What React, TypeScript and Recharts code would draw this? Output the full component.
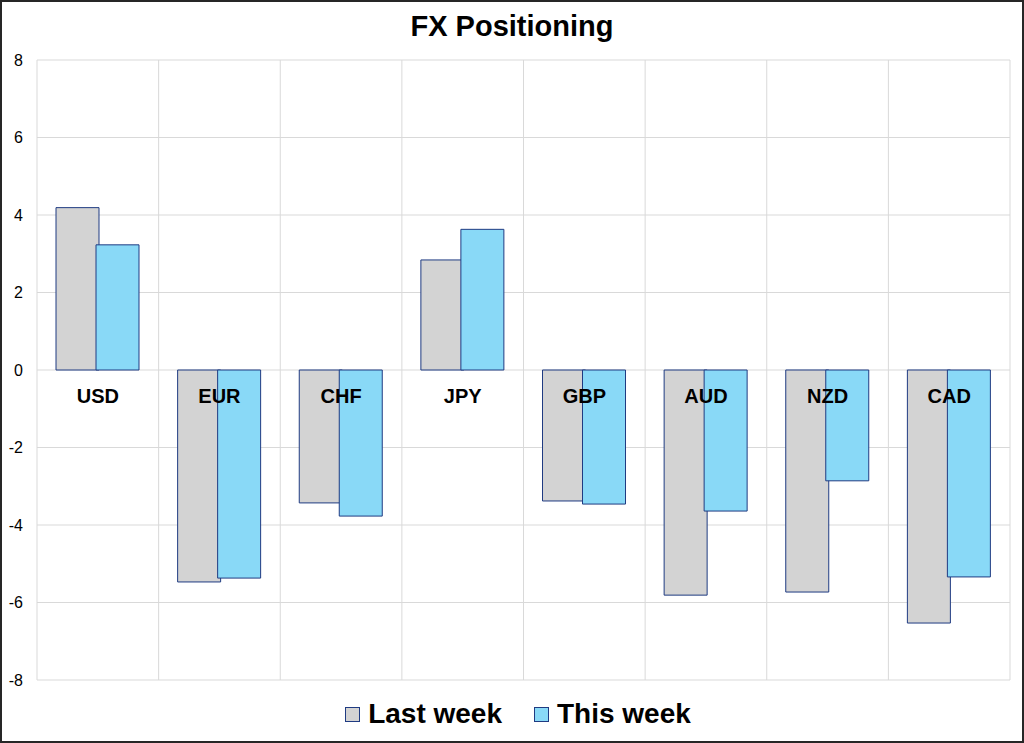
import { BarChart, Bar, XAxis, YAxis, CartesianGrid } from 'recharts';

const currencies = ['USD', 'EUR', 'CHF', 'JPY', 'GBP', 'AUD', 'NZD', 'CAD'];
const lastWeek = [4.19, -5.47, -3.43, 2.84, -3.38, -5.81, -5.73, -6.53];
const thisWeek = [3.23, -5.37, -3.77, 3.63, -3.46, -3.64, -2.86, -5.34];
const yTicks = [-8, -6, -4, -2, 0, 2, 4, 6, 8];

const data = currencies.map((c, i) => ({ name: c, last: lastWeek[i], this: thisWeek[i] }));

const W = 1024;
const H = 743;
const X_AXIS_H = 30;
const MARGIN = { top: 60, right: 14, bottom: 63 - X_AXIS_H, left: 0 };
const PLOT_H = H - MARGIN.top - MARGIN.bottom - X_AXIS_H;
const ZERO_Y = MARGIN.top + PLOT_H / 2; // domain is symmetric [-8, 8]

const FONT = '"Liberation Sans", Arial, sans-serif';
const GRID = '#D9D9D9';
const EDGE = '#1F3B82';
const GREY = '#D3D3D3';
const BLUE = '#89D9F7';

// category names sit just under the zero line, not at the bottom of the plot
const CategoryTick = ({ x, payload }: any) => (
  <text x={x} y={ZERO_Y + 33} textAnchor="middle" fontFamily={FONT}
    fontSize={20} fontWeight="bold" fill="#000">
    {payload.value}
  </text>
);

const LegendItem = ({ color, label }: { color: string; label: string }) => (
  <div style={{ display: 'flex', alignItems: 'center', margin: '0 16px' }}>
    <span style={{
      width: 13, height: 13, background: color, border: `1px solid ${EDGE}`,
      marginRight: 8, display: 'inline-block'
    }} />
    <span>{label}</span>
  </div>
);

export default function App() {
  return (
    <div style={{ position: 'absolute', left: 0, top: 0, width: W, height: H, background: '#fff', fontFamily: FONT }}>
      <BarChart width={W} height={H} data={data} margin={MARGIN} barSize={43} barGap={-3}>
        <CartesianGrid
          stroke={GRID}
          strokeWidth={1}
          verticalCoordinatesGenerator={({ offset }: any) =>
            currencies.map((_, i) => offset.left + (i * offset.width) / currencies.length)
              .concat(offset.left + offset.width)}
        />
        <YAxis
          width={37}
          domain={[-8, 8]}
          ticks={yTicks}
          axisLine={false}
          tickLine={false}
          tickSize={6}
          tickMargin={8}
          tick={{ fontSize: 16, fill: '#000', fontFamily: FONT }}
        />
        <Bar dataKey="last" name="Last week" fill={GREY} stroke={EDGE} strokeWidth={1} isAnimationActive={false} />
        <Bar dataKey="this" name="This week" fill={BLUE} stroke={EDGE} strokeWidth={1} isAnimationActive={false} />
        <XAxis dataKey="name" height={X_AXIS_H} axisLine={false} tickLine={false} tick={<CategoryTick />} interval={0} />
      </BarChart>
      <div style={{
        position: 'absolute', top: 10, left: 0, width: W, textAlign: 'center',
        fontSize: 29, lineHeight: '33px', fontWeight: 'bold', color: '#000'
      }}>
        FX Positioning
      </div>
      <div style={{
        position: 'absolute', top: 698, left: 6, width: W, display: 'flex', justifyContent: 'center',
        fontSize: 28, lineHeight: '32px', fontWeight: 'bold', color: '#000'
      }}>
        <LegendItem color={GREY} label="Last week" />
        <LegendItem color={BLUE} label="This week" />
      </div>
      <div style={{
        position: 'absolute', inset: 0, border: '2px solid #262626', boxSizing: 'border-box', pointerEvents: 'none'
      }} />
    </div>
  );
}
